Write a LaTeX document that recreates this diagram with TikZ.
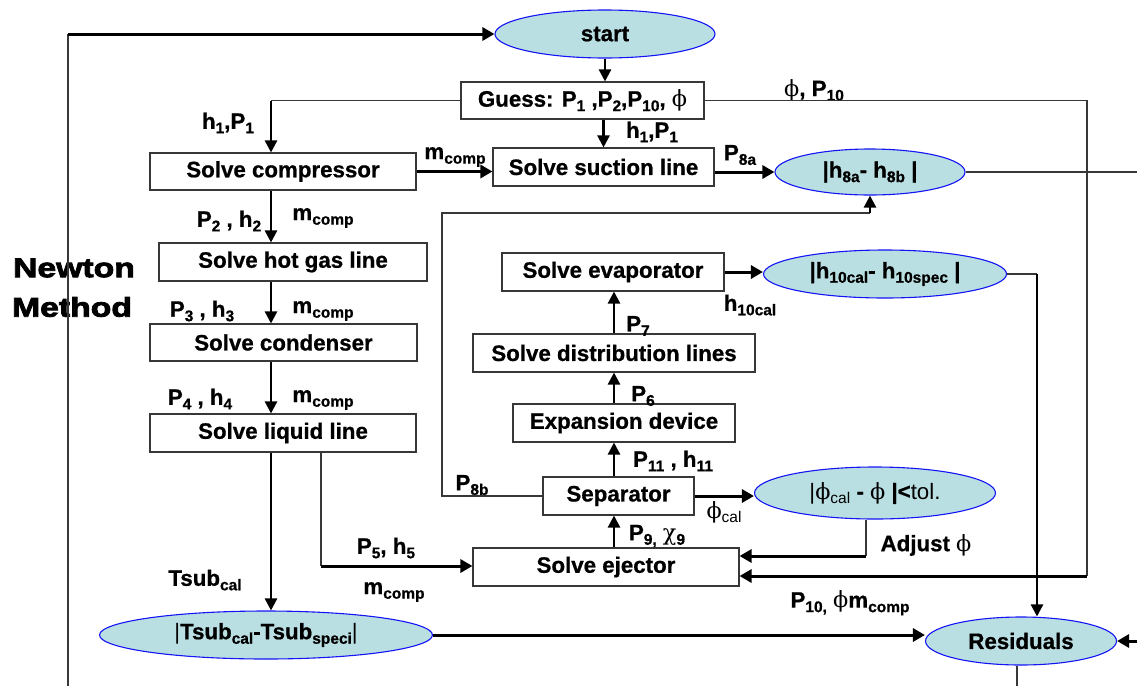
\documentclass[tikz,border=0pt]{standalone}
\usepackage{fontspec}
\setmainfont{Liberation Sans}[BoldFeatures={FakeBold=0.8}]
\newfontfamily\grk{DejaVu Serif}
\newfontfamily\bigfont{Liberation Sans}[FakeStretch=1.25, BoldFeatures={FakeBold=3}]
\usetikzlibrary{shapes.geometric,arrows.meta}

\definecolor{ellfill}{RGB}{186,223,227}
\definecolor{ellline}{RGB}{20,20,245}
\definecolor{linegray}{RGB}{55,55,55}

\newcommand{\bodyfont}{\fontsize{22.3}{25}\selectfont\bfseries}
\newcommand{\lsub}[1]{\raisebox{-4.5pt}{\fontsize{15.5}{15.5}\selectfont #1}}
\newcommand{\phis}{{\grk\mdseries ϕ}}
\newcommand{\chis}{{\grk\mdseries χ}}

\tikzset{
  box/.style={rectangle, draw=linegray, line width=1.1pt, fill=white, inner sep=0pt, font=\bodyfont},
  oval/.style={ellipse, draw=ellline, line width=1.1pt, fill=ellfill, inner sep=0pt, font=\bodyfont},
  lbl/.style={inner sep=0pt, font=\bodyfont},
  wire/.style={draw=linegray, line width=1.3pt},
  flow/.style={draw=black, line width=3pt, -{Triangle[length=12pt,width=13pt]}},
  flowm/.style={draw=black, line width=2.4pt, -{Triangle[length=12pt,width=12pt]}},
}

\begin{document}
\begin{tikzpicture}[x=1pt,y=-1pt]
\fill[white] (0,0) rectangle (1137,686);
\useasboundingbox (0,0) rectangle (1137,686);

% ---- process blocks ----
\node[oval, minimum width=220pt, minimum height=48pt] (start) at (605,34) {start};
\node[box, minimum width=243pt, minimum height=37pt] (guess) at (582.5,100.5) {Guess: P\lsub{1} ,P\lsub{2},P\lsub{10}, \phis};
\node[box, minimum width=266pt, minimum height=37pt] (comp) at (283,171.5) {Solve compressor};
\node[box, minimum width=221pt, minimum height=38pt] (suct) at (603.5,167) {Solve suction line};
\node[oval, minimum width=190pt, minimum height=46pt] (h8a) at (870,172) {|h\lsub{8a}- h\lsub{8b} |};
\node[box, minimum width=268pt, minimum height=38pt] (hot) at (293,262) {Solve hot gas line};
\node[box, minimum width=267pt, minimum height=37pt] (cond) at (283.5,342.5) {Solve condenser};
\node[box, minimum width=266pt, minimum height=38pt] (liq) at (283,433) {Solve liquid line};
\node[box, minimum width=222pt, minimum height=38pt] (evap) at (613,272) {Solve evaporator};
\node[oval, minimum width=243pt, minimum height=48pt] (h10) at (885,274) {|h\lsub{10cal}- h\lsub{10spec} |};
\node[box, minimum width=282pt, minimum height=38pt] (dist) at (614,353) {Solve distribution lines};
\node[box, minimum width=222pt, minimum height=38pt] (exp) at (624,423) {Expansion device};
\node[box, minimum width=151pt, minimum height=38pt] (sep) at (618.5,496) {Separator};
\node[oval, minimum width=241pt, minimum height=52pt] (phi) at (875,493)
  {{\mdseries|}\phis{\mdseries\lsub{cal}} - \phis{} |<{\mdseries tol.}};
\node[box, minimum width=266pt, minimum height=38pt] (ejec) at (606,567) {Solve ejector};
\node[oval, minimum width=333pt, minimum height=48pt] (tsub) at (266,635) {{\mdseries|}Tsub\lsub{cal}-Tsub\lsub{speci}{\mdseries|}};
\node[oval, minimum width=191pt, minimum height=48pt] (res) at (1021,641) {Residuals};

% ---- side title ----
\node[inner sep=0pt, font=\fontsize{27}{30}\selectfont\bigfont\bfseries] (tnewton) at (74,268) {Newton};
\node[inner sep=0pt, font=\fontsize{27}{30}\selectfont\bigfont\bfseries] (tmethod) at (72,307) {Method};

% ---- variable labels ----
\node[lbl] (l1) at (228,123) {h\lsub{1},P\lsub{1}};
\node[lbl] (l2) at (814,90) {\phis, P\lsub{10}};
\node[lbl] (l3) at (652,132) {h\lsub{1},P\lsub{1}};
\node[lbl] (l4) at (455,157) {m\lsub{comp}};
\node[lbl] (l5) at (740,155) {P\lsub{8a}};
\node[lbl] (l6) at (229,221) {P\lsub{2} , h\lsub{2}};
\node[lbl] (l7) at (323,218) {m\lsub{comp}};
\node[lbl] (l8) at (202,311) {P\lsub{3} , h\lsub{3}};
\node[lbl] (l9) at (323,311) {m\lsub{comp}};
\node[lbl] (l10) at (200,399) {P\lsub{4} , h\lsub{4}};
\node[lbl] (l11) at (323,400) {m\lsub{comp}};
\node[lbl] (l12) at (205,580) {Tsub\lsub{cal}};
\node[lbl] (l13) at (386,548) {P\lsub{5}, h\lsub{5}};
\node[lbl] (l14) at (394,592) {m\lsub{comp}};
\node[lbl] (l15) at (472,485) {P\lsub{8b}};
\node[lbl] (l16) at (638,326) {P\lsub{7}};
\node[lbl] (l17) at (643,396) {P\lsub{6}};
\node[lbl] (l18) at (750,305) {h\lsub{10cal}};
\node[lbl] (l19) at (673,461) {P\lsub{11} , h\lsub{11}};
\node[lbl, font=\fontsize{22.3}{25}\selectfont\mdseries] (l20) at (724,512) {\phis\lsub{cal}};
\node[lbl] (l21) at (657,536) {P\lsub{9,}~\chis\lsub{9}};
\node[lbl] (l22) at (926,545) {Adjust \phis};
\node[lbl] (l23) at (850,603) {P\lsub{10,} \phis m\lsub{comp}};

% ---- helper points ----
\coordinate (colx) at (271,0);
\coordinate (midx) at (614,0);
\coordinate (loopbot) at (68,686);
\coordinate (rtop) at (1137,172);
\coordinate (ej10) at (1087,576);
\coordinate (lq) at (321,566);
\coordinate (rbot) at (1137,641);
\coordinate (resout) at (1017,686);
\coordinate (hx) at (1037,0);
\coordinate (adj) at (866,556);
\coordinate (p8x) at (442,213);

% ---- outer Newton loop ----
\draw[wire] (loopbot) -- (loopbot |- start.west);
\draw[flow] (loopbot |- start.west) -- (start.west);
\draw[flowm] (start.south) -- (start.south |- guess.north);

% ---- guesses distributed ----
\draw[wire] (guess.west) -- (colx |- guess.west);
\draw[flowm] (colx |- guess.west) -- (colx |- comp.north);
\draw[flowm] (suct.north |- guess.south) -- (suct.north);
\draw[wire] (guess.east) -- (guess.east -| ej10) -- (ej10);
\draw[flow] (ej10) -- (ej10 -| ejec.east);

% ---- compressor and suction side ----
\draw[flow] (comp.east) -- (comp.east -| suct.west);
\draw[flow] (suct.east |- h8a.west) -- (h8a.west);
\draw[wire] (h8a.east) -- (rtop);

% ---- high pressure side ----
\draw[flowm] (colx |- comp.south) -- (colx |- hot.north);
\draw[flowm] (colx |- hot.south) -- (colx |- cond.north);
\draw[flowm] (colx |- cond.south) -- (colx |- liq.north);
\draw[flowm] (colx |- liq.south) -- (colx |- tsub.north);
\draw[wire] (lq |- liq.south) -- (lq);
\draw[flow] (lq) -- (lq -| ejec.west);
\draw[flow] (tsub.east) -- (tsub.east -| res.west);

% ---- low pressure side ----
\draw[flowm] (midx |- ejec.north) -- (midx |- sep.south);
\draw[flowm] (midx |- sep.north) -- (midx |- exp.south);
\draw[flowm] (midx |- exp.north) -- (midx |- dist.south);
\draw[flowm] (midx |- dist.north) -- (midx |- evap.south);
\draw[flow] (evap.east) -- (evap.east -| h10.west);
\draw[wire] (h10.east) -- (hx |- h10.east);
\draw[flowm] (hx |- h10.east) -- (hx |- res.north);

% ---- separator outputs ----
\draw[flow] (sep.east) -- (sep.east -| phi.west);
\draw[wire] (adj |- phi.south) -- (adj);
\draw[flow] (adj) -- (adj -| ejec.east);
\draw[wire] (sep.west) -- (p8x |- sep.west) -- (p8x) -- (p8x -| h8a.south);
\draw[flowm] (p8x -| h8a.south) -- (h8a.south);

% ---- residuals ----
\draw[flow] (rbot) -- (res.east);
\draw[wire] (resout |- res.south) -- (resout);
\end{tikzpicture}
\end{document}
